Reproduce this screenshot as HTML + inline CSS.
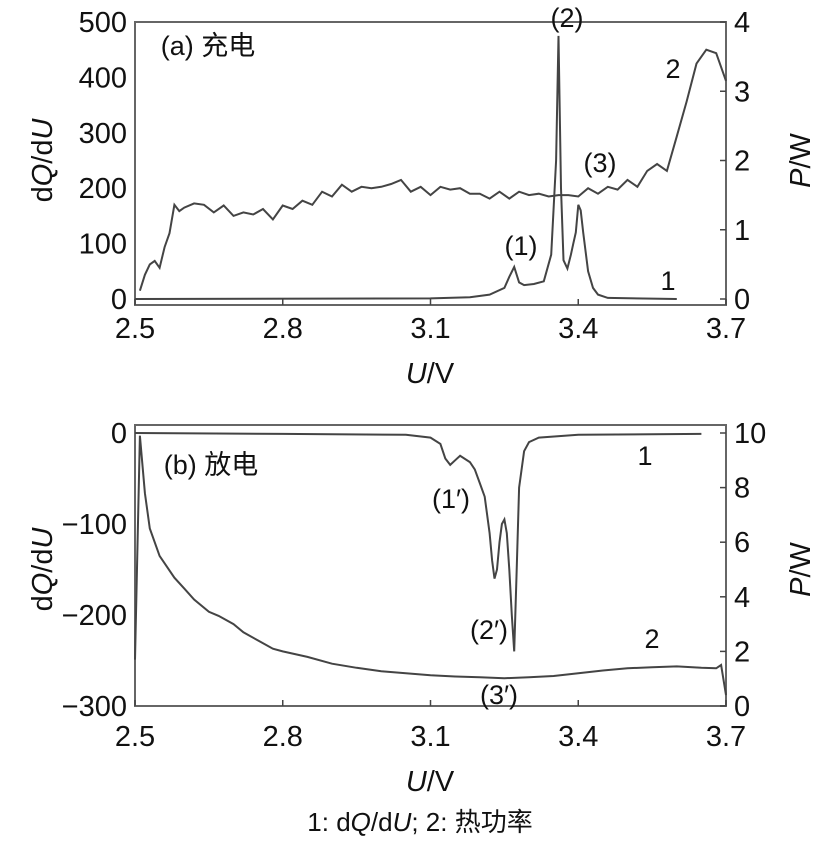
<!DOCTYPE html>
<html><head><meta charset="utf-8"><style>
body{margin:0;background:#fff;}
svg text{font-family:"Liberation Sans","Noto Sans CJK SC",sans-serif;fill:#111;}
</style></head><body>
<svg id="c" width="819" height="841" xmlns="http://www.w3.org/2000/svg"></svg>
<script>
const xTicks=[2.5,2.8,3.1,3.4,3.7];
const aLeftTicks=[0,100,200,300,400,500];
const aRightTicks=[0,1,2,3,4];
const bLeftTicks=[0,-100,-200,-300];
const bRightTicks=[0,2,4,6,8,10];
const aDqU=[2.5,3.1,3.18,3.22,3.25,3.26,3.27,3.28,3.29,3.31,3.33,3.345,3.355,3.36,3.365,3.37,3.378,3.385,3.39,3.395,3.4,3.405,3.41,3.42,3.43,3.44,3.46,3.6];
const aDqV=[0,1,3,8,20,40,58,30,25,27,32,80,250,475,200,70,55,80,100,120,170,160,120,50,20,8,2,0];
const aPU=[2.51,2.52,2.53,2.54,2.55,2.56,2.57,2.58,2.59,2.6,2.62,2.64,2.66,2.68,2.7,2.72,2.74,2.76,2.78,2.8,2.82,2.84,2.86,2.88,2.9,2.92,2.94,2.96,2.98,3.0,3.02,3.04,3.06,3.08,3.1,3.12,3.14,3.16,3.18,3.2,3.22,3.24,3.26,3.28,3.3,3.32,3.34,3.36,3.38,3.4,3.42,3.44,3.46,3.48,3.5,3.52,3.54,3.56,3.58,3.6,3.62,3.64,3.66,3.68,3.7];
const aPV=[0.12,0.35,0.5,0.55,0.45,0.75,0.95,1.36,1.27,1.32,1.38,1.36,1.25,1.35,1.2,1.25,1.22,1.3,1.15,1.35,1.3,1.42,1.36,1.55,1.48,1.65,1.55,1.62,1.6,1.62,1.66,1.72,1.55,1.62,1.5,1.62,1.58,1.6,1.52,1.52,1.45,1.55,1.45,1.55,1.5,1.52,1.48,1.5,1.5,1.48,1.6,1.52,1.62,1.58,1.72,1.62,1.85,1.95,1.85,2.35,2.85,3.4,3.6,3.55,3.15];
const bDqU=[2.5,2.8,3.05,3.1,3.12,3.13,3.14,3.15,3.16,3.18,3.19,3.2,3.21,3.22,3.225,3.23,3.235,3.24,3.245,3.25,3.255,3.26,3.265,3.27,3.275,3.28,3.29,3.3,3.32,3.4,3.65];
const bDqV=[0,-1,-2,-5,-12,-28,-35,-30,-25,-32,-40,-55,-70,-110,-140,-160,-150,-120,-100,-95,-110,-150,-200,-240,-150,-60,-20,-10,-5,-2,-1];
const bPU=[2.5,2.51,2.52,2.53,2.55,2.58,2.6,2.62,2.65,2.67,2.7,2.72,2.75,2.78,2.8,2.85,2.9,2.95,3.0,3.05,3.1,3.15,3.2,3.25,3.3,3.35,3.4,3.45,3.5,3.55,3.6,3.65,3.68,3.69,3.7];
const bPV=[1.7,9.9,7.8,6.5,5.5,4.7,4.3,3.9,3.45,3.3,3.0,2.7,2.4,2.1,2.0,1.8,1.55,1.4,1.27,1.2,1.13,1.08,1.05,1.02,1.05,1.1,1.2,1.3,1.38,1.42,1.45,1.4,1.38,1.5,0.4];
const NS="http://www.w3.org/2000/svg",svg=document.getElementById('c');
function mk(t,a,p){const e=document.createElementNS(NS,t);for(const k in a)e.setAttribute(k,a[k]);(p||svg).appendChild(e);return e;}
function txt(s,x,y,sz,anchor,p){const e=mk('text',{x:x,y:y,'font-size':sz,'text-anchor':anchor||'middle'},p);e.innerHTML=s;return e;}
const X0=135,X1=726;
const sx=v=>X0+(v-2.5)/1.2*(X1-X0);
function panel(id,top,bot,lmin,lmax,rmin,rmax,lt,rt,dqU,dqV,pU,pV,ft,fb,off){
 const g=mk('g',{});
 const ly=v=>bot-(v-lmin)/(lmax-lmin)*(bot-top);
 const ry=v=>bot-(v-rmin)/(rmax-rmin)*(bot-top);
 const fr=mk('rect',{x:X0,y:ft,width:X1-X0,height:fb-ft,fill:'none',stroke:'#666','stroke-width':2},g);
 
 xTicks.forEach(v=>{mk('line',{x1:sx(v),x2:sx(v),y1:fb,y2:fb-6,stroke:'#444','stroke-width':1.5},g);
  const t=txt(v.toFixed(1),sx(v),fb+33+off,29,'middle',g);});
 lt.forEach(v=>{const t=txt(String(v).replace('-','\u2212'),X0-8,ly(v)+10,29,'end',g);});
 rt.forEach(v=>{mk('line',{x1:X1,x2:X1-6,y1:ry(v),y2:ry(v),stroke:'#444','stroke-width':1.5},g);
  const t=txt(String(v),X1+8,ry(v)+10,29,'start',g);});
 let d=dqU.map((u,i)=>(i?'L':'M')+sx(u).toFixed(1)+','+ly(dqV[i]).toFixed(1)).join('');
 const p1=mk('path',{d:d,fill:'none',stroke:'#444','stroke-width':2},g);
 d=pU.map((u,i)=>(i?'L':'M')+sx(u).toFixed(1)+','+ry(pV[i]).toFixed(1)).join('');
 const p2=mk('path',{d:d,fill:'none',stroke:'#444','stroke-width':2},g);
 const yl=txt('',0,0,29,'middle',g);yl.innerHTML='d<tspan font-style="italic">Q</tspan>/d<tspan font-style="italic">U</tspan>';
 yl.setAttribute('transform','translate(52,'+((top+bot)/2)+') rotate(-90)');
 const yr=txt('<tspan font-style="italic">P</tspan>/W',0,0,29,'middle',g);
 yr.setAttribute('transform','translate(810,'+((top+bot)/2)+') rotate(-90)');
 const xl=txt('<tspan font-style="italic">U</tspan>/V',430,fb+78+off,29,'middle',g);
 return g;
}
panel('panel-a',22,299,0,500,0,4,aLeftTicks,aRightTicks,aDqU,aDqV,aPU,aPV,22,305,0);
panel('panel-b',433,706,-300,0,0,10,bLeftTicks,bRightTicks,bDqU,bDqV,bPU,bPV,425,706,7);
function lab(s,x,y,n){const t=txt(s,x,y,27,'middle');}
lab('(a) 充电',208,55,'panel-a-title');lab('(1)',521,255,'peak-1-label');lab('(2)',567,27,'peak-2-label');lab('(3)',600,172,'peak-3-label');
lab('2',673,78,'series-2-label-a');lab('1',668,290,'series-1-label-a');
lab('(b) 放电',211,474,'panel-b-title');lab('(1′)',451,508,'peak-1p-label');lab('(2′)',489,639,'peak-2p-label');lab('(3′)',499,704,'peak-3p-label');
lab('1',645,465,'series-1-label-b');lab('2',652,648,'series-2-label-b');
const lg=txt('1: d<tspan font-style="italic">Q</tspan>/d<tspan font-style="italic">U</tspan>; 2: 热功率',420,831,26,'middle');
</script>
</body></html>
